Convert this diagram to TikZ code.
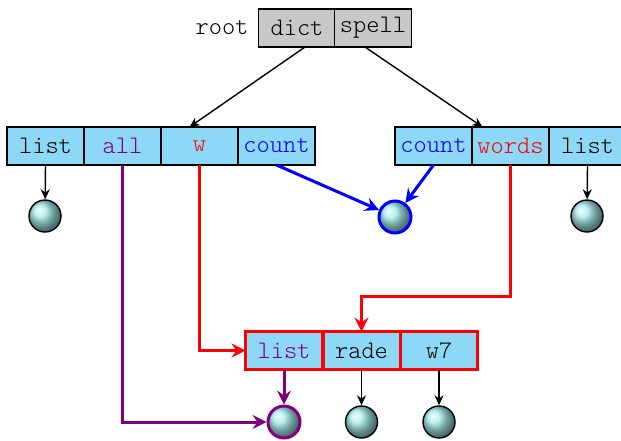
\documentclass[tikz,border=0pt]{standalone}
\usetikzlibrary{arrows.meta}
\definecolor{cellblue}{RGB}{140,216,246}
\definecolor{cellgray}{RGB}{200,200,200}
\definecolor{ballc}{RGB}{165,235,235}
\definecolor{mypurple}{RGB}{128,0,128}
\begin{document}
\begin{tikzpicture}[x=0.5pt,y=-0.5pt,
  tfont/.style={font=\ttfamily\fontseries{l}\fontsize{12.6}{15}\selectfont},
  cell/.style={draw,line width=0.7pt,fill=cellblue,minimum width=38.5pt,minimum height=19pt,inner sep=0pt,outer sep=0pt,tfont},
  graycell/.style={cell,fill=cellgray},
  redcell/.style={cell,draw=red,line width=1.5pt},
  ballnode/.style={circle,draw,line width=0.7pt,minimum size=16pt,inner sep=0pt,shading=ball,ball color=ballc},
  thinarr/.style={line width=0.7pt,-{Stealth[length=5pt,width=4.5pt]}},
  thickarr/.style={line width=1.5pt,-{Stealth[length=7pt,width=7pt,inset=2.5pt]}},
  lbl/.style={tfont,inner sep=0pt}]
\useasboundingbox (0,0) rectangle (621,440);
% top
\node[lbl] (root) at (222,28) {root};
\node[graycell] (dict) at (297,28) {dict};
\node[graycell] (spell) at (373,28) {spell};
% left row
\node[cell] (l1) at (45.5,146) {list};
\node[cell,text=mypurple] (all) at (122.5,146) {all};
\node[cell,text=red] (w) at (199.5,146) {w};
\node[cell,text=blue] (lcount) at (276.5,146) {count};
% right row
\node[cell,text=blue] (rcount) at (433.5,146) {count};
\node[cell,text=red] (words) at (510.5,146) {words};
\node[cell] (r3) at (587.5,146) {list};
% middle balls
\node[ballnode] (bl) at (45,216) {};
\node[ballnode,draw=blue,line width=1.5pt] (bc) at (395,217) {};
\node[ballnode] (br) at (587,216) {};
% bottom row
\node[redcell,text=mypurple] (blist) at (284,350.5) {list};
\node[redcell] (rade) at (361.5,350.5) {rade};
\node[redcell] (w7) at (439,350.5) {w7};
% bottom balls
\node[ballnode,draw=mypurple,line width=1.5pt] (b1) at (284,422) {};
\node[ballnode] (b2) at (361.5,422) {};
\node[ballnode] (b3) at (439,422) {};
\coordinate (hy) at (0,296);
% connectors
\draw[thinarr] ([xshift=4pt]dict.south) -- ([xshift=-5pt]w.north);
\draw[thinarr] ([xshift=-4pt]spell.south) -- ([xshift=-14pt]words.north);
\draw[thinarr] (l1.south) -- (bl);
\draw[thinarr] (r3.south) -- (br);
\draw[thinarr] (rade.south) -- (b2);
\draw[thinarr] (w7.south) -- (b3);
\draw[thickarr,blue] (lcount.south) -- (bc);
\draw[thickarr,blue] (rcount.south) -- (bc);
\draw[thickarr,mypurple] (all.south) |- (b1);
\draw[thickarr,mypurple] (blist.south) -- (b1);
\draw[thickarr,red] (w.south) |- (blist.west);
\draw[thickarr,red] (words.south) -- (words.south |- hy) -| (rade.north);
\end{tikzpicture}
\end{document}
